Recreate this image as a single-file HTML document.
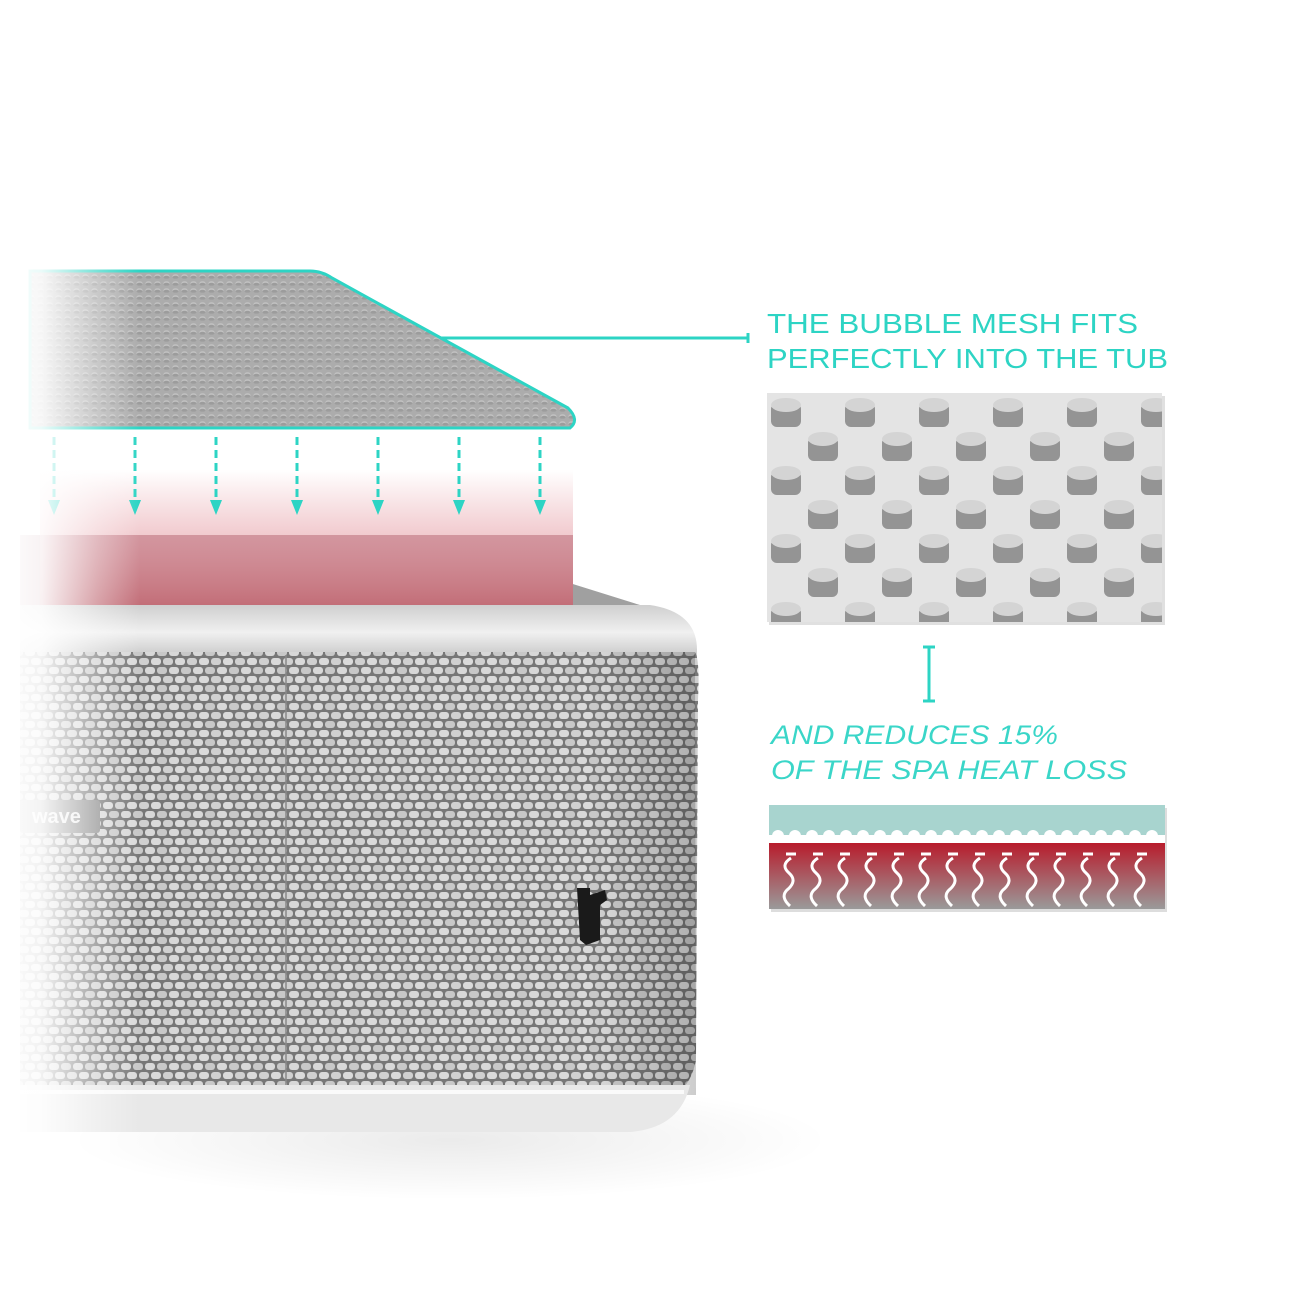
<!DOCTYPE html>
<html><head><meta charset="utf-8"><style>
html,body{margin:0;padding:0;background:#fff;width:1307px;height:1307px;overflow:hidden}
</style></head><body>
<svg width="1307" height="1307" viewBox="0 0 1307 1307" xmlns="http://www.w3.org/2000/svg">
<defs>
  <pattern id="dots" width="9" height="7" patternUnits="userSpaceOnUse">
    <rect width="9" height="7" fill="#acacac"/>
    <ellipse cx="4.5" cy="3.5" rx="3.2" ry="2.3" fill="#c2c2c2"/>
    <ellipse cx="4.5" cy="4.3" rx="3" ry="1.5" fill="#9c9c9c"/>
  </pattern>
  <pattern id="weave" width="24" height="18" patternUnits="userSpaceOnUse">
    <rect width="24" height="18" fill="#777"/>
    <rect x="1" y="1" width="10" height="7" rx="3" fill="#d8d8d8"/>
    <rect x="13" y="1" width="10" height="7" rx="3" fill="#c8c8c8"/>
    <rect x="-5" y="10" width="10" height="7" rx="3" fill="#d0d0d0"/>
    <rect x="7" y="10" width="10" height="7" rx="3" fill="#dadada"/>
    <rect x="19" y="10" width="10" height="7" rx="3" fill="#d0d0d0"/>
  </pattern>
  <pattern id="bub" x="767" y="393" width="74" height="68" patternUnits="userSpaceOnUse">
    <rect width="74" height="68" fill="#e4e4e4"/>
    <rect x="4" y="10" width="30" height="24" rx="6" fill="#949494"/>
    <ellipse cx="19" cy="12" rx="15" ry="7" fill="#d4d4d4"/>
    <rect x="41" y="44" width="30" height="24" rx="6" fill="#949494"/>
    <ellipse cx="56" cy="46" rx="15" ry="7" fill="#d4d4d4"/>
    <rect x="41" y="-24" width="30" height="24" rx="6" fill="#949494"/>
    <ellipse cx="56" cy="-22" rx="15" ry="7" fill="#d4d4d4"/>
  </pattern>
  <linearGradient id="fadeL" x1="0" x2="1" y1="0" y2="0">
    <stop offset="0" stop-color="#fff" stop-opacity="1"/>
    <stop offset="0.3" stop-color="#fff" stop-opacity="0.9"/>
    <stop offset="0.7" stop-color="#fff" stop-opacity="0.35"/>
    <stop offset="1" stop-color="#fff" stop-opacity="0"/>
  </linearGradient>
  <linearGradient id="pink" x1="0" x2="0" y1="0" y2="1">
    <stop offset="0" stop-color="#e8a0a8" stop-opacity="0"/>
    <stop offset="0.45" stop-color="#e8a6ad" stop-opacity="0.55"/>
    <stop offset="1" stop-color="#c46a74" stop-opacity="0.85"/>
  </linearGradient>
  <linearGradient id="heat" x1="0" x2="0" y1="0" y2="1">
    <stop offset="0" stop-color="#b81c2c"/>
    <stop offset="1" stop-color="#9a9a9a"/>
  </linearGradient>
  <linearGradient id="rim" x1="0" x2="0" y1="0" y2="1">
    <stop offset="0" stop-color="#cfcfcf"/>
    <stop offset="0.5" stop-color="#f0f0f0"/>
    <stop offset="1" stop-color="#c4c4c4"/>
  </linearGradient>
  <linearGradient id="shadeR" x1="0" x2="1">
    <stop offset="0.85" stop-color="#000" stop-opacity="0"/>
    <stop offset="1" stop-color="#000" stop-opacity="0.2"/>
  </linearGradient>
  <radialGradient id="floor" cx="0.5" cy="0.5" r="0.5">
    <stop offset="0" stop-color="#000" stop-opacity="0.08"/>
    <stop offset="1" stop-color="#000" stop-opacity="0"/>
  </radialGradient>
</defs>

<ellipse cx="450" cy="1140" rx="380" ry="60" fill="url(#floor)"/>

<path d="M20 540 L430 540 Q500 545 560 580 L640 605 Q690 620 697 650 L697 665 L20 665 Z" fill="#a0a0a0"/>
<rect x="20" y="535" width="553" height="70" fill="#b98590"/>
<path d="M20 605 L650 605 Q697 612 697 650 L697 660 L20 660 Z" fill="url(#rim)"/>
<path d="M20 652 L695 652 Q700 660 698 700 L696 1060 Q690 1090 670 1095 L20 1095 Z" fill="url(#weave)"/>
<path d="M20 652 L695 652 L696 1095 L20 1095 Z" fill="url(#shadeR)"/>
<line x1="286" y1="655" x2="286" y2="1095" stroke="#888" stroke-width="1.5"/>
<path d="M20 1085 L690 1085 Q680 1128 630 1132 L20 1132 Z" fill="#e8e8e8"/>
<path d="M20 1092 L684 1092" stroke="#fafafa" stroke-width="4"/>
<rect x="20" y="800" width="80" height="33" rx="3" fill="#8a8a8a"/>
<text x="32" y="823" font-family="Liberation Sans, sans-serif" font-weight="bold" font-size="20" fill="#eee">wave</text>
<path d="M577 888 L590 888 L590 895 L605 890 L607 900 L600 905 L600 940 L586 945 L580 940 Z" fill="#1a1a1a"/>

<rect x="40" y="470" width="533" height="135" fill="url(#pink)"/>

<path d="M30 271 L310 271 Q322 271 332 278 L568 408 Q580 420 570 428 L30 428 Z" fill="url(#dots)" stroke="#2dd4c4" stroke-width="3"/>
<path d="M440 338 L748 338 M748 333 L748 343" stroke="#2dd4c4" stroke-width="3" fill="none"/>

<g stroke="#2dd4c4" stroke-width="3" stroke-dasharray="8 5" fill="none">
  <line x1="54" y1="437" x2="54" y2="502"/><line x1="135" y1="437" x2="135" y2="502"/>
  <line x1="216" y1="437" x2="216" y2="502"/><line x1="297" y1="437" x2="297" y2="502"/>
  <line x1="378" y1="437" x2="378" y2="502"/><line x1="459" y1="437" x2="459" y2="502"/>
  <line x1="540" y1="437" x2="540" y2="502"/>
</g>
<g fill="#2dd4c4">
  <path d="M48 500 L60 500 L54 515 Z"/><path d="M129 500 L141 500 L135 515 Z"/>
  <path d="M210 500 L222 500 L216 515 Z"/><path d="M291 500 L303 500 L297 515 Z"/>
  <path d="M372 500 L384 500 L378 515 Z"/><path d="M453 500 L465 500 L459 515 Z"/>
  <path d="M534 500 L546 500 L540 515 Z"/>
</g>

<rect x="0" y="250" width="140" height="920" fill="url(#fadeL)"/>

<g font-family="Liberation Sans, sans-serif" fill="#2dd4c4">
  <text x="767" y="333" font-size="28" textLength="371" lengthAdjust="spacingAndGlyphs">THE BUBBLE MESH FITS</text>
  <text x="767" y="368" font-size="28" textLength="401" lengthAdjust="spacingAndGlyphs">PERFECTLY INTO THE TUB</text>
  <text x="771" y="744" font-size="27" font-style="italic" textLength="287" lengthAdjust="spacingAndGlyphs" fill="#3ad6c8">AND REDUCES 15%</text>
  <text x="771" y="779" font-size="27" font-style="italic" textLength="356" lengthAdjust="spacingAndGlyphs" fill="#3ad6c8">OF THE SPA HEAT LOSS</text>
</g>

<rect x="769" y="396" width="396" height="229" fill="#ccc" opacity="0.6"/>
<rect x="767" y="393" width="395" height="229" fill="url(#bub)"/>

<path d="M929 647 L929 700 M923 647 L935 647 M923 701 L935 701" stroke="#2dd4c4" stroke-width="3"/>

<rect x="771" y="808" width="396" height="104" fill="#ddd"/>
<rect x="769" y="805" width="396" height="30" fill="#a8d4cf"/>
<rect x="769" y="835" width="396" height="8" fill="#fff"/>
<g fill="#fff">
  <circle cx="778" cy="836" r="6"/><circle cx="795" cy="836" r="6"/><circle cx="812" cy="836" r="6"/><circle cx="829" cy="836" r="6"/><circle cx="846" cy="836" r="6"/><circle cx="863" cy="836" r="6"/><circle cx="880" cy="836" r="6"/><circle cx="897" cy="836" r="6"/><circle cx="914" cy="836" r="6"/><circle cx="931" cy="836" r="6"/><circle cx="948" cy="836" r="6"/><circle cx="965" cy="836" r="6"/><circle cx="982" cy="836" r="6"/><circle cx="999" cy="836" r="6"/><circle cx="1016" cy="836" r="6"/><circle cx="1033" cy="836" r="6"/><circle cx="1050" cy="836" r="6"/><circle cx="1067" cy="836" r="6"/><circle cx="1084" cy="836" r="6"/><circle cx="1101" cy="836" r="6"/><circle cx="1118" cy="836" r="6"/><circle cx="1135" cy="836" r="6"/><circle cx="1152" cy="836" r="6"/>
</g>
<rect x="769" y="843" width="396" height="66" fill="url(#heat)"/>
<g stroke="#fff" stroke-width="3" fill="none">
  <path id="w" d="M786 854 L796 854 M791 858 Q780 865 789 873 Q798 881 787 890 Q780 897 790 906"/>
  <use href="#w" x="27"/><use href="#w" x="54"/><use href="#w" x="81"/><use href="#w" x="108"/>
  <use href="#w" x="135"/><use href="#w" x="162"/><use href="#w" x="189"/><use href="#w" x="216"/>
  <use href="#w" x="243"/><use href="#w" x="270"/><use href="#w" x="297"/><use href="#w" x="324"/>
  <use href="#w" x="351"/>
</g>
</svg>
</body></html>
